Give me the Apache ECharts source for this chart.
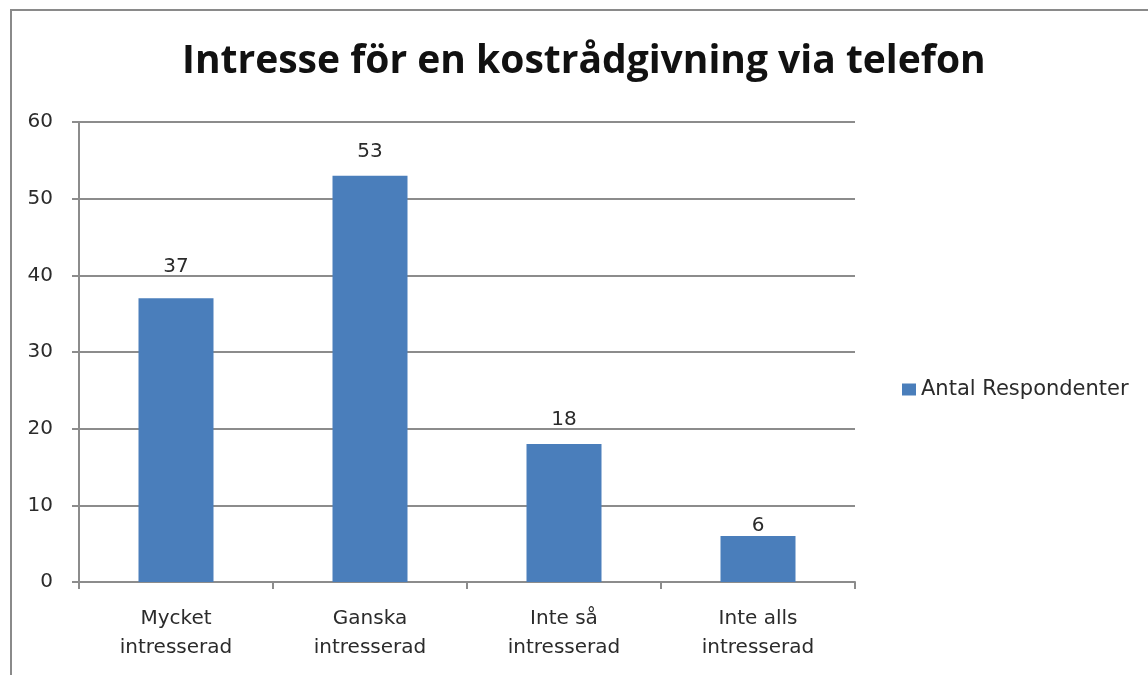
<!DOCTYPE html>
<html>
<head>
<meta charset="utf-8">
<script src="https://cdn.jsdelivr.net/npm/echarts@6/dist/echarts.min.js"></script>
<style>
  html, body { margin: 0; padding: 0; background: #fff; }
  #chart { width: 1148px; height: 675px; }
</style>
</head>
<body>
<div id="chart"></div>
<script>
// Survey answers: interest in dietary advice by telephone
const chartTitle = 'Intresse för en kostrådgivning via telefon';
const seriesName = 'Antal Respondenter';
const categories = ['Mycket\nintresserad', 'Ganska\nintresserad', 'Inte så\nintresserad', 'Inte alls\nintresserad'];
const respondents = [37, 53, 18, 6];
const yTicks = { min: 0, max: 60, interval: 10 };

// gap between each bar top and its value label, in px
const labelGaps = [22, 14, 14, 0];

const gridColor = '#8c8c8c';
const textColor = '#2b2b2b';
const barColor = '#4a7ebb';
const bodyFont = 'DejaVu Sans';

const barData = respondents.map((v, i) => ({ value: v, label: { distance: labelGaps[i] } }));

const chart = echarts.init(document.getElementById('chart'));
chart.setOption({
  backgroundColor: '#ffffff',
  animation: false,
  graphic: [{
    type: 'rect',
    shape: { x: 11, y: 10, width: 2000, height: 2000 },
    style: { fill: 'none', stroke: '#8a8a8a', lineWidth: 2 },
    silent: true
  }],
  title: {
    text: chartTitle,
    left: 182,
    top: 42,
    padding: 0,
    textStyle: { fontFamily: 'Open Sans', fontWeight: 'bold', fontSize: 39, color: '#111' }
  },
  legend: {
    data: [seriesName],
    orient: 'vertical',
    left: 897,
    top: 374,
    icon: 'rect',
    itemWidth: 14,
    itemHeight: 12,
    textStyle: { fontFamily: bodyFont, fontSize: 21, color: textColor }
  },
  grid: { left: 79, right: 293, top: 122, bottom: 93, containLabel: false },
  xAxis: {
    type: 'category',
    data: categories,
    boundaryGap: true,
    axisLine: { lineStyle: { color: gridColor, width: 2 } },
    axisTick: { show: true, length: 7, lineStyle: { color: gridColor, width: 2 } },
    axisLabel: {
      margin: 22,
      lineHeight: 29,
      fontFamily: bodyFont,
      fontSize: 20,
      color: textColor
    }
  },
  yAxis: {
    type: 'value',
    min: yTicks.min,
    max: yTicks.max,
    interval: yTicks.interval,
    axisLine: { show: true, lineStyle: { color: gridColor, width: 2 } },
    axisTick: { show: true, length: 7, lineStyle: { color: gridColor, width: 2 } },
    splitLine: { lineStyle: { color: gridColor, width: 2 } },
    axisLabel: { margin: 26, fontFamily: bodyFont, fontSize: 20, color: textColor }
  },
  series: [{
    name: seriesName,
    type: 'bar',
    data: barData,
    barWidth: 75,
    itemStyle: { color: barColor },
    label: {
      show: true,
      position: 'top',
      distance: 16,
      fontFamily: bodyFont,
      fontSize: 20,
      color: textColor
    }
  }]
});
</script>
</body>
</html>
